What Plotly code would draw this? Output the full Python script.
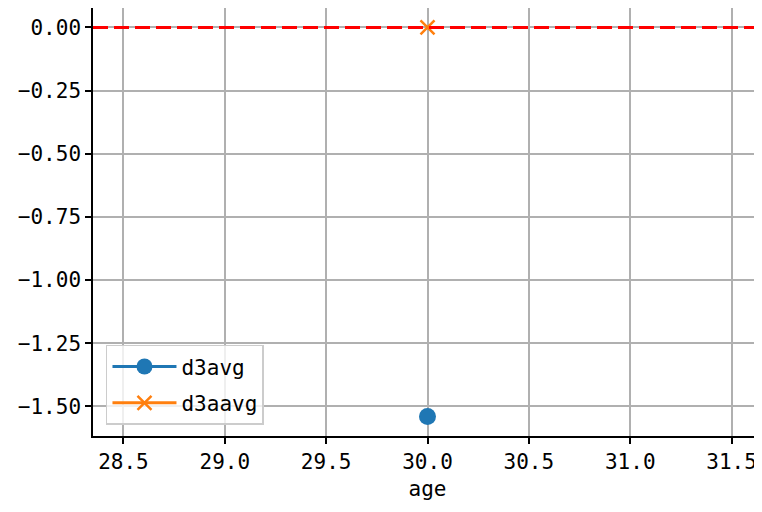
import plotly.graph_objects as go

ages = [30.0]
d3avg = [-1.54]
d3aavg = [0.0]
ref_y = 0.0

FONT = "DejaVu Sans Mono, monospace"

fig = go.Figure()
fig.add_trace(go.Scatter(x=ages, y=d3avg, mode="lines+markers", name="d3avg",
                         legendgroup="a",
                         line=dict(color="#1f77b4", width=3),
                         marker=dict(symbol="circle", size=17, color="#1f77b4")))
fig.add_trace(go.Scatter(x=ages, y=d3aavg, mode="lines+markers", name="d3aavg",
                         legendgroup="b",
                         line=dict(color="#ff7f0e", width=3),
                         marker=dict(symbol="x-thin", size=14, color="#ff7f0e",
                                     line=dict(color="#ff7f0e", width=2.5))))
fig.add_hline(y=ref_y, line=dict(color="red", width=3, dash="15px,6px"), layer="above")

axis_common = dict(showline=True, linecolor="black", linewidth=1.5,
                   ticks="outside", ticklen=6, tickwidth=1.5, tickcolor="black",
                   showgrid=True, gridcolor="#b0b0b0", gridwidth=1.5, zeroline=False,
                   automargin=False,
                   tickfont=dict(family=FONT, size=21, color="black"))

fig.update_xaxes(range=[28.35, 31.65], dtick=0.5, tick0=28.5, tickformat=".1f",
                 mirror=True,
                 title=dict(text="age", font=dict(family=FONT, size=21, color="black"),
                            standoff=8),
                 **axis_common)
fig.update_yaxes(range=[-1.617, 0.077], dtick=0.25, tick0=0, tickformat=".2f",
                 mirror=False,
                 **axis_common)

fig.update_layout(
    width=754, height=496,
    margin=dict(l=85, r=0, t=0, b=68),
    plot_bgcolor="white", paper_bgcolor="white",
    showlegend=True,
    legend=dict(x=0.0194, y=0.213, xanchor="left", yanchor="top",
                bgcolor="rgba(255,255,255,0.8)", bordercolor="#cccccc", borderwidth=1.5,
                font=dict(family=FONT, size=21, color="black"),
                itemwidth=64, traceorder="grouped", tracegroupgap=6),
)

fig.write_html("out.html")
